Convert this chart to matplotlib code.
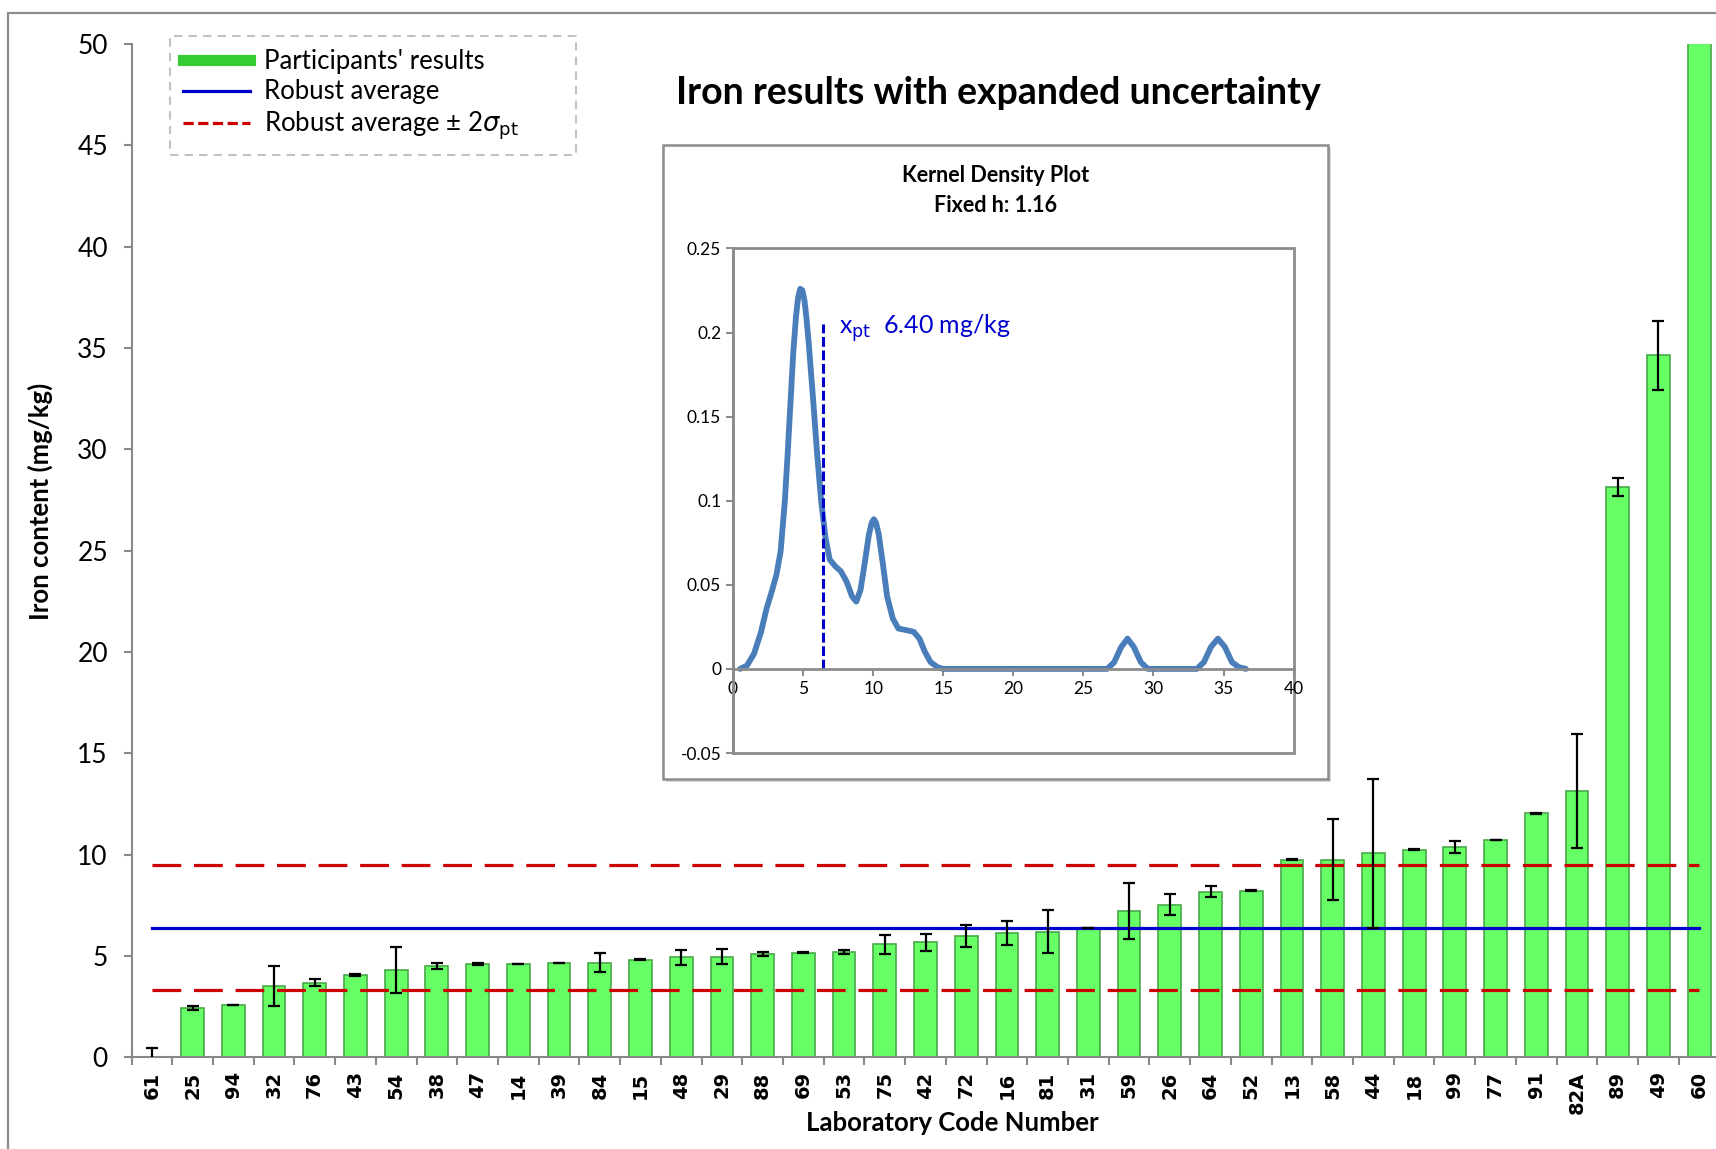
import numpy as np
import matplotlib
matplotlib.use("Agg")
import matplotlib.pyplot as plt
from matplotlib.patches import Rectangle
from matplotlib.lines import Line2D

plt.rcParams['font.family'] = ['Lato', 'DejaVu Sans']
plt.rcParams['mathtext.fontset'] = 'dejavusans'

# Resultados de hierro por laboratorio (mg/kg) e incertidumbre expandida
codes = ['61', '25', '94', '32', '76', '43', '54', '38', '47', '14', '39', '84', '15',
         '48', '29', '88', '69', '53', '75', '42', '72', '16', '81', '31', '59', '26',
         '64', '52', '13', '58', '44', '18', '99', '77', '91', '82A', '89', '49', '60']
iron = [0.0, 2.45, 2.59, 3.52, 3.68, 4.07, 4.33, 4.52, 4.61, 4.61, 4.66, 4.68, 4.82,
        4.94, 4.97, 5.10, 5.17, 5.18, 5.58, 5.67, 5.97, 6.14, 6.20, 6.36, 7.23, 7.53,
        8.18, 8.22, 9.76, 9.76, 10.07, 10.24, 10.38, 10.73, 12.04, 13.15, 28.15, 34.65, 56.0]
unc = [0.46, 0.10, 0.02, 1.00, 0.17, 0.03, 1.13, 0.15, 0.05, 0.02, 0.02, 0.48, 0.02,
       0.37, 0.36, 0.10, 0.02, 0.10, 0.48, 0.41, 0.54, 0.61, 1.07, 0.0, 1.37, 0.52,
       0.28, 0.02, 0.02, 1.98, 3.67, 0.02, 0.30, 0.02, 0.02, 2.81, 0.46, 1.70, 0.0]

robust_avg = 6.40
two_sigma = 3.08
h_fixed = 1.16

# curva de densidad (kernel) leida punto a punto
kde_x = [0.5, 1.0, 1.5, 2.0, 2.4, 2.8, 3.1, 3.4, 3.7, 3.9, 4.1, 4.3, 4.5, 4.65, 4.8,
         4.95, 5.1, 5.25, 5.4, 5.55, 5.7, 6.0, 6.3, 6.6, 6.9, 7.3, 7.7, 8.1, 8.5, 8.8,
         9.1, 9.4, 9.7, 9.9, 10.05, 10.2, 10.4, 10.7, 11.0, 11.4, 11.8, 12.4, 12.9,
         13.3, 13.7, 14.1, 14.6, 15.0, 26.7, 27.2, 27.7, 28.15, 28.6, 29.1, 29.6,
         33.1, 33.6, 34.1, 34.6, 35.1, 35.6, 36.1, 36.6]
kde_y = [0.000, 0.002, 0.009, 0.022, 0.036, 0.047, 0.056, 0.070, 0.100, 0.128, 0.158,
         0.188, 0.210, 0.221, 0.226, 0.225, 0.219, 0.208, 0.194, 0.178, 0.162, 0.128,
         0.099, 0.078, 0.065, 0.061, 0.058, 0.052, 0.043, 0.040, 0.047, 0.063, 0.080,
         0.087, 0.089, 0.087, 0.080, 0.062, 0.043, 0.030, 0.024, 0.023, 0.022, 0.018,
         0.010, 0.004, 0.001, 0.000, 0.000, 0.004, 0.013, 0.018, 0.013, 0.004, 0.000,
         0.000, 0.004, 0.013, 0.018, 0.013, 0.004, 0.001, 0.000]

W, H = 1716, 1149
fig = plt.figure(figsize=(W / 100, H / 100), dpi=100)


def caja(x0, y0, x1, y1):
    return [x0 / W, 1 - y1 / H, (x1 - x0) / W, (y1 - y0) / H]


# marco exterior del grafico
fig.add_artist(Rectangle((8.4 / W, -0.1), 2, 1.1 - 12.6 / H, transform=fig.transFigure,
                         fill=False, edgecolor='#8c8c8c', lw=1.6))

ax = fig.add_axes(caja(131.5, 44, 1719.5, 1057.4))
pos = np.arange(len(codes))
ax.bar(pos, iron, width=0.56, color='#66ff66', edgecolor='#48a848', linewidth=1.2, zorder=2)
ax.plot([pos[0], pos[-1]], [robust_avg] * 2, color='#0000cc', lw=2.3, zorder=3)
for lim in (robust_avg - two_sigma, robust_avg + two_sigma):
    ax.plot([pos[0], pos[-1]], [lim] * 2, color='#cc0000', lw=2.3, dashes=(9, 4), zorder=3)
ax.errorbar(pos, iron, yerr=unc, fmt='none', ecolor='black', elinewidth=1.6,
            capsize=4.5, capthick=1.6, zorder=4)

ax.set_xlim(-0.5, len(codes) - 0.5)
ax.set_ylim(0, 50)
ax.set_yticks(np.arange(0, 51, 5))
ax.set_xticks(pos)
ax.set_xticklabels(codes, rotation=90, family='DejaVu Sans', fontweight='bold', fontsize=14)
ax.set_xticks(np.arange(-0.5, len(codes), 1.0), minor=True)
ax.tick_params(axis='x', which='major', length=0, pad=10)
ax.tick_params(axis='x', which='minor', length=6, width=1.5, color='#888888')
ax.tick_params(axis='y', length=6, width=1.5, color='#888888', labelsize=19, pad=11)
for s in ('top', 'right'):
    ax.spines[s].set_visible(False)
for s in ('left', 'bottom'):
    ax.spines[s].set_color('#888888')
    ax.spines[s].set_linewidth(1.5)

fig.text(40 / W, 1 - 501 / H, 'Iron content (mg/kg)', rotation=90, ha='center', va='center',
         fontsize=18.5, fontweight='bold')
fig.text(952 / W, 1 - 1123 / H, 'Laboratory Code Number', ha='center', va='center',
         fontsize=18.5, fontweight='bold')
fig.text(998 / W, 1 - 93 / H, 'Iron results with expanded uncertainty', ha='center', va='center',
         fontsize=27, fontweight='bold')

handles = [Line2D([], [], color='#33cc33', lw=8),
           Line2D([], [], color='#0000cc', lw=2.3),
           Line2D([], [], color='#cc0000', lw=2.3, dashes=(3.2, 1.4))]
labels = ["Participants' results", 'Robust average', r'Robust average ± 2$\sigma_{\rm pt}$']
leg = fig.legend(handles, labels, loc='upper left',
                 bbox_to_anchor=(170 / W, 1 - 153 / H, 406 / W, 117 / H), mode='expand',
                 borderaxespad=0, fontsize=18.5, frameon=True, fancybox=False,
                 handlelength=2.6, labelspacing=0.22, borderpad=0.5, handletextpad=0.55)
leg.get_frame().set_linestyle((0, (4, 3)))
leg.get_frame().set_edgecolor('#b3b3b3')
leg.get_frame().set_linewidth(1.5)

# recuadro del grafico de densidad
fig.add_artist(Rectangle((666 / W, 1 - 782 / H), 664.6 / W, 634.5 / H, transform=fig.transFigure,
                         facecolor='#d9d9d9', edgecolor='none', zorder=2))
fig.add_artist(Rectangle((663 / W, 1 - 779 / H), 664.6 / W, 634.5 / H, transform=fig.transFigure,
                         facecolor='white', edgecolor='#8c8c8c', lw=1.8, zorder=2))
fig.text(996 / W, 1 - 176 / H, 'Kernel Density Plot', ha='center', va='center',
         fontsize=15.5, fontweight='bold', zorder=3)
fig.text(996 / W, 1 - 205 / H, f'Fixed h: {h_fixed}', ha='center', va='center',
         fontsize=15.5, fontweight='bold', zorder=3)

axi = fig.add_axes(caja(733, 248.4, 1293.6, 753), zorder=3)
axi.plot(kde_x, kde_y, color='#4a7ebb', lw=4.2, solid_capstyle='round', solid_joinstyle='round')
axi.plot([robust_avg] * 2, [0, 0.205], color='#0000cc', lw=2.2, dashes=(3.2, 1.2))
axi.text(7.56, 0.2025, r'x$_{\rm pt}$  ' + f'{robust_avg:.2f} mg/kg', color='#0000cc',
         fontsize=18, va='center')
axi.set_xlim(0, 40)
axi.set_ylim(-0.05, 0.25)
axi.set_xticks(np.arange(0, 41, 5))
yt = np.round(np.arange(-0.05, 0.26, 0.05), 2)
axi.set_yticks(yt)
axi.set_yticklabels([f'{v:g}' for v in yt])
axi.spines['bottom'].set_position(('data', 0))
for s in ('top', 'right'):
    axi.spines[s].set_visible(False)
for s in ('left', 'bottom'):
    axi.spines[s].set_color('#8c8c8c')
    axi.spines[s].set_linewidth(2)
axi.add_patch(Rectangle((0, 0), 1, 1, transform=axi.transAxes, fill=False,
                        edgecolor='#8c8c8c', lw=2, clip_on=False))
axi.tick_params(labelsize=12.5, color='#8c8c8c', length=5, width=1.5)

fig.savefig('out.png', dpi=100)
